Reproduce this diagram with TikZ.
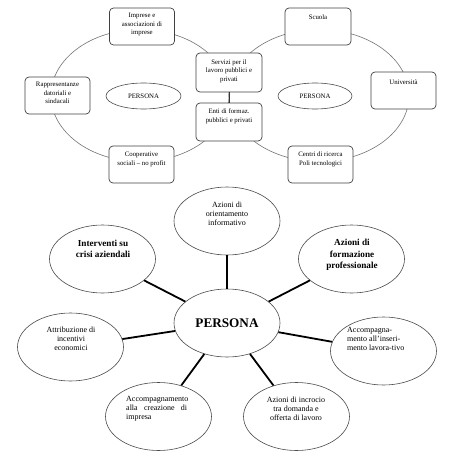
\documentclass[tikz,border=0pt]{standalone}
\usepackage{fontspec}
\setmainfont{Liberation Serif}
\usetikzlibrary{shapes.geometric}
\begin{document}
\begin{tikzpicture}[x=1pt,y=-1pt,
  box/.style={draw=black!75,line width=0.7pt,rounded corners=4pt,fill=white,minimum width=65pt,minimum height=37pt,inner sep=0pt},
  pers/.style={draw=black!70,line width=0.6pt,ellipse,minimum width=75pt,minimum height=26pt,inner sep=0pt,font=\fontsize{6.8}{8.5}\selectfont},
  sat/.style={draw=black!70,line width=0.6pt,ellipse,minimum width=106pt,minimum height=68pt,inner sep=0pt,fill=white},
  tsmall/.style={font=\fontsize{6.8}{8.5}\selectfont,align=center,inner sep=0pt},
  tmed/.style={font=\fontsize{8}{9.2}\selectfont,align=center,inner sep=0pt},
  tbold/.style={font=\fontsize{9.2}{11.7}\selectfont\bfseries,align=center,inner sep=0pt},
  link/.style={line width=1.8pt,black},
  ring/.style={draw=black!55,line width=0.6pt}
]
\useasboundingbox (0,0) rectangle (450,452);
% top rings
\draw[ring] (140,95.5) ellipse [x radius=89, y radius=66];
\draw[ring] (319,95.5) ellipse [x radius=90, y radius=66];
% boxes
\node[box] (imp) at (142,26.5) {};
\node[box] (rap) at (57.5,95.5) {};
\node[box] (coop) at (141.5,164.5) {};
\node[box,minimum width=66pt,minimum height=39pt] (serv) at (229,72.5) {};
\node[box,minimum width=66pt,minimum height=38pt] (enti) at (229,122) {};
\node[box,minimum width=66pt] (scu) at (318,26.5) {};
\node[box] (uni) at (403.5,90.5) {};
\node[box] (cen) at (320.5,164.5) {};
\draw[black!80,line width=0.6pt] (serv) -- (enti);
\node[tsmall] (timp) at (142,24.5) {Imprese e\\associazioni di\\imprese};
\node[tsmall] (trap) at (57.5,93) {Rappresentanze\\datoriali e\\sindacali};
\node[tsmall] (tcoop) at (141.5,159.5) {Cooperative\\sociali -- no profit};
\node[tsmall] (tserv) at (229,71) {Servizi per il\\lavoro pubblici e\\privati};
\node[tsmall] (tenti) at (229,116.5) {Enti di formaz.\\pubblici e privati};
\node[tsmall] (tscu) at (318,17) {Scuola};
\node[tsmall] (tuni) at (403.5,82) {Università};
\node[tsmall] (tcen) at (320.5,159.5) {Centri di ricerca\\Poli tecnologici};
\node[pers] (p1) at (143.5,96) {PERSONA};
\node[pers,minimum width=74pt] (p2) at (315,96) {PERSONA};
% bottom
\node[sat] (pc) at (227,323) {};
\node[sat] (ori) at (227,221) {};
\node[sat] (int) at (102.5,259) {};
\node[sat] (for) at (351.5,259) {};
\node[sat] (att) at (70.5,347) {};
\node[sat] (cre) at (158.5,416.5) {};
\node[sat] (ins) at (383.5,351) {};
\node[sat] (inc) at (296.5,416.5) {};
\foreach \s in {ori,int,for,att,cre,ins,inc} \draw[link] (pc) -- (\s);
\node[font=\fontsize{13.2}{15}\selectfont\bfseries,inner sep=0pt] (tpc) at (227,323) {PERSONA};
\node[tmed] (tori) at (227,213.5) {Azioni di\\orientamento\\informativo};
\node[tbold] (tint) at (103,249) {Interventi su\\crisi aziendali};
\node[tbold] (tfor) at (352,255) {Azioni di\\formazione\\professionale};
\node[tmed] (tatt) at (71,339) {Attribuzione di\\incentivi\\economici};
\node[tmed,align=left,text width=61pt,anchor=west] (tcre) at (126,409) {Accompagnamento\\alla\hfill creazione\hfill di\\impresa};
\node[tmed,align=left,anchor=west] (tins) at (347,339) {Accompagna-\\mento all'inseri-\\mento lavora-tivo};
\node[tmed] (tinc) at (296,409) {Azioni di incrocio\\tra domanda e\\offerta di lavoro};
\end{tikzpicture}
\end{document}
